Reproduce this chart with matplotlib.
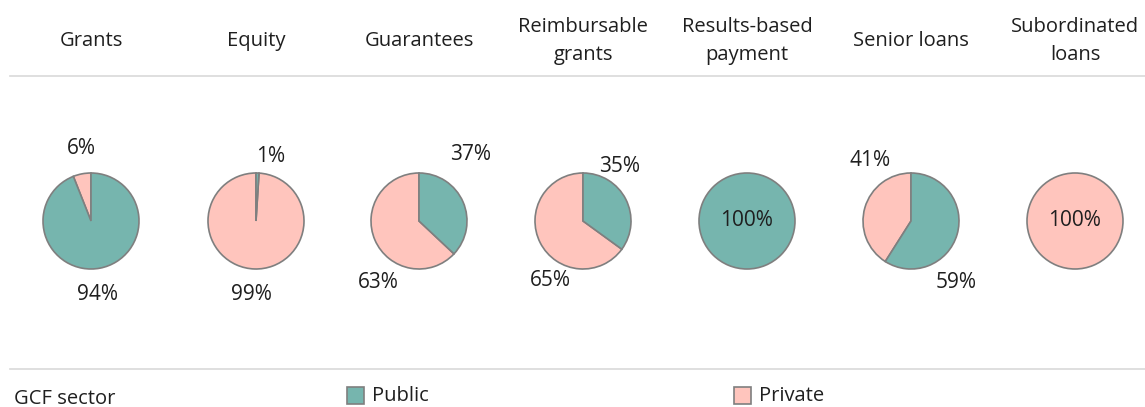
import numpy as np
import matplotlib.pyplot as plt

plt.rcParams['font.family'] = ['Open Sans', 'DejaVu Sans']

# data
categories = ['Grants', 'Equity', 'Guarantees', 'Reimbursable\ngrants',
              'Results-based\npayment', 'Senior loans', 'Subordinated\nloans']
public = [94, 1, 37, 35, 100, 59, 0]
private = [6, 99, 63, 65, 0, 41, 100]
series_names = ['Public', 'Private']

# layout (figure pixels, y up)
W, H = 1145, 407
xc = [91, 256, 419, 583, 747, 911, 1075]
yc = H - 221
R = 48
teal = '#76b5ae'
pink = '#ffc5bd'
edge = '#7f7f7f'
txt = '#1f1f1f'

# label positions as (private, public) offsets in pixels from the pie centre
lab_off = [
    [(-10, 73), (7, -73)],
    [(-5, -73), (15, 65)],
    [(-41, -61), (52, 66)],
    [(-33, -59), (37, 55)],
    [None, (0, 0)],
    [(-41, 61), (45, -62)],
    [(0, 0), None],
]

fig = plt.figure(figsize=(W / 100, H / 100), dpi=100)
ax = fig.add_axes([0, 0, 1, 1])

for i, cat in enumerate(categories):
    vals = [private[i], public[i]]
    cols = [pink, teal]
    keep = [k for k in range(2) if vals[k] > 0]
    ax.pie([vals[k] for k in keep], colors=[cols[k] for k in keep],
           center=(xc[i], yc), radius=R, startangle=90, counterclock=True,
           wedgeprops=dict(edgecolor=edge, linewidth=1.2))
    for k in keep:
        dx, dy = lab_off[i][k]
        ax.text(xc[i] + dx, yc + dy, f'{vals[k]}%', ha='center', va='center',
                fontsize=15, color=txt)
    ax.text(xc[i], H - 41, cat, ha='center', va='center', fontsize=14.5,
            color=txt, linespacing=1.55)

# separators
ax.plot([10, W], [H - 76, H - 76], color='#d9d9d9', lw=1.2)
ax.plot([10, W], [H - 369, H - 369], color='#d9d9d9', lw=1.2)

# legend row
ax.text(14, H - 399, 'GCF sector', ha='left', va='center', fontsize=14.5, color=txt)
for x0, c, name in [(347, teal, series_names[0]), (734, pink, series_names[1])]:
    ax.add_patch(plt.Rectangle((x0, H - 404), 17, 17, facecolor=c, edgecolor=edge, lw=1.2))
    ax.text(x0 + 25, H - 396, name, ha='left', va='center', fontsize=14.5, color=txt)

ax.set_xlim(0, W)
ax.set_ylim(0, H)
ax.set_aspect('equal')
ax.axis('off')
fig.savefig('out.png', dpi=100)
